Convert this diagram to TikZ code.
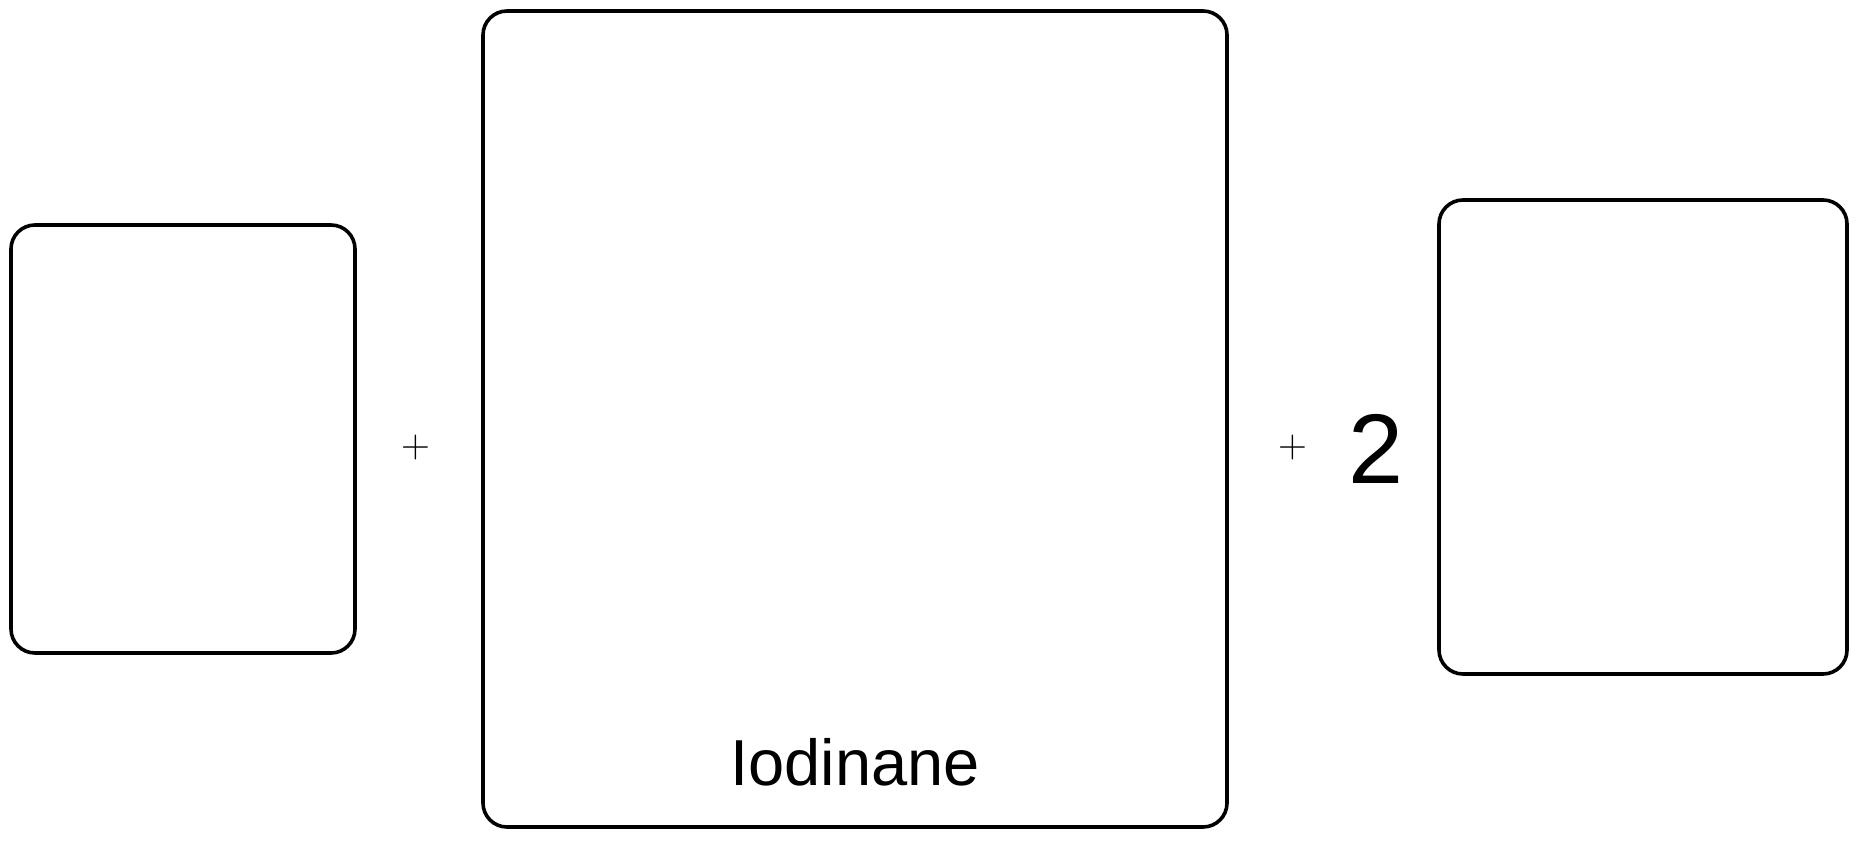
\documentclass[tikz,border=0pt]{standalone}
\usepackage{fontspec}
\newfontfamily\arialfont{Liberation Sans}
\newfontfamily\lmfont{Latin Modern Roman}
\begin{document}
\begin{tikzpicture}[x=1pt,y=-1pt,
  box/.style={draw=black, line width=3.6pt, rounded corners=24pt, inner sep=0pt},
  plussign/.style={inner sep=0pt, font=\lmfont\fontsize{40}{40}\selectfont},
  lbl/.style={inner sep=0pt, font=\arialfont\fontsize{65}{65}\selectfont}]
\useasboundingbox (0,0) rectangle (1859,840);
\node[box, minimum width=344pt, minimum height=428pt] (r1) at (183,439) {};
\node[box, minimum width=744pt, minimum height=816pt] (r2) at (855,419) {};
\node[box, minimum width=408pt, minimum height=474pt] (p1) at (1643,437) {};
\node[plussign] (plusA) at (416,448) {+};
\node[plussign] (plusB) at (1293,448) {+};
\node[inner sep=0pt, anchor=base, font=\arialfont\fontsize{99}{99}\selectfont] (coef) at (1376,483) {2};
\node[lbl, anchor=base] (name) at (855,785) {Iodinane};
\end{tikzpicture}
\end{document}
